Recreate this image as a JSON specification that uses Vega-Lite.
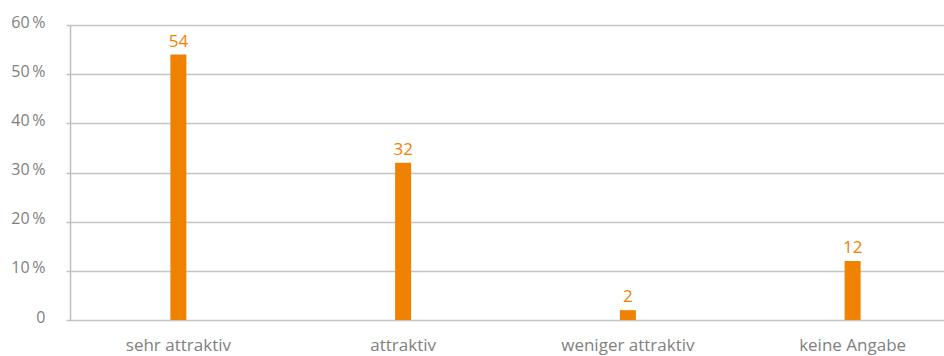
{
  "$schema": "https://vega.github.io/schema/vega-lite/v6.json",
  "width": 874,
  "height": 295,
  "autosize": {"type": "none"},
  "padding": {"left": 70, "top": 25, "right": 0, "bottom": 36},
  "background": "white",
  "config": {
    "view": {"stroke": null},
    "font": "Open Sans"
  },
  "data": {
    "values": [
      {"kategorie": "sehr attraktiv", "wert": 54},
      {"kategorie": "attraktiv", "wert": 32},
      {"kategorie": "weniger attraktiv", "wert": 2},
      {"kategorie": "keine Angabe", "wert": 12}
    ]
  },
  "encoding": {
    "x": {
      "field": "kategorie",
      "type": "nominal",
      "sort": null,
      "scale": {"range": [-4, 895], "paddingInner": 0, "paddingOuter": 0},
      "axis": {
        "title": null,
        "labelAngle": 0,
        "ticks": false,
        "domain": false,
        "labelFontSize": 17,
        "labelColor": "#7f7f7f",
        "labelPadding": 17,
        "labelFont": "Open Sans"
      }
    },
    "y": {
      "field": "wert",
      "type": "quantitative",
      "scale": {"domain": [0, 60], "nice": false},
      "axis": {
        "title": null,
        "values": [0, 10, 20, 30, 40, 50, 60],
        "labelExpr": "datum.value == 0 ? '0' : datum.value + '\u2009%'",
        "ticks": false,
        "domain": true,
        "domainColor": "#bfbfbf",
        "domainWidth": 1.5,
        "grid": true,
        "gridColor": "#c4c4c4",
        "gridWidth": 1.3,
        "labelFontSize": 16,
        "labelColor": "#7f7f7f",
        "labelPadding": 25,
        "labelOffset": -3,
        "labelFont": "Open Sans"
      }
    }
  },
  "layer": [
    {
      "mark": {"type": "bar", "size": 16, "color": "#ef8200"}
    },
    {
      "mark": {"type": "text", "color": "#ef8200", "fontSize": 17, "baseline": "alphabetic", "dy": -8, "font": "Open Sans"},
      "encoding": {"text": {"field": "wert", "type": "quantitative"}}
    }
  ]
}
